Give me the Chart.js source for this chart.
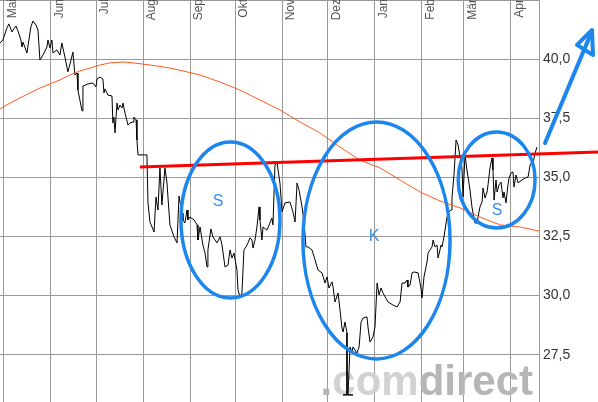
<!DOCTYPE html>
<html>
<head>
<meta charset="utf-8">
<script src="https://cdn.jsdelivr.net/npm/chart.js@4/dist/chart.umd.min.js"></script>
<style>
html,body{margin:0;padding:0;background:#fff;}
#wrap{width:598px;height:402px;}
</style>
</head>
<body>
<div id="wrap"><canvas id="kurs" width="598" height="402"></canvas></div>
<script>

/* x = days since 1. Mai, y = Kurs */
let monthDays = [0,31,61,92,123,153,184,214,245,276,304,335];
let monthLabels = ["Mai","Jun","Jul","Aug","Sep","Okt","Nov","Dez","Jan","Feb","Mär","Apr"];
let yTicks = [27.5,30,32.5,35,37.5,40];

let priceDays = [-2.6,-0.7,2.0,3.3,5.3,7.9,9.3,11.2,11.9,12.6,
15.2,17.8,19.2,21.2,22.5,23.8,25.8,28.4,29.1,30.4,
31.7,32.4,35.0,37.0,38.3,40.3,42.3,44.3,45.6,46.9,
48.3,48.9,51.6,52.2,55.5,58.8,60.8,61.5,63.5,65.4,
66.1,66.8,68.1,68.7,71.4,72.0,72.7,73.4,74.7,75.4,
76.7,78.0,78.7,80.0,82.0,83.3,85.3,85.9,87.3,87.9,
88.6,94.5,95.2,96.5,99.2,100.5,101.8,103.1,104.4,106.4,
107.7,109.7,112.4,114.4,115.7,117.7,118.3,119.6,121.0,121.6,
122.9,125.6,127.6,128.2,129.6,131.5,132.9,134.2,134.8,136.8,
138.1,140.8,142.8,144.1,146.1,148.1,149.4,150.7,152.0,154.0,
154.7,156.0,157.3,158.6,160.0,161.3,162.6,163.9,164.6,165.9,
167.2,168.6,169.2,170.5,171.2,173.8,175.8,177.1,177.8,179.1,
180.5,182.4,183.8,185.7,189.0,191.0,192.4,193.7,195.0,197.0,
198.3,199.6,200.9,203.6,205.6,207.6,210.2,212.2,213.5,214.8,
216.8,217.5,218.8,220.8,222.1,223.4,224.1,225.4,226.7,
226.7,224.1,230.7,227.4,
228.7,230.0,230.7,233.3,234.7,236.0,237.3,239.9,240.6,241.9,
243.9,245.2,246.6,247.9,249.2,250.5,253.8,257.1,259.8,261.8,
263.1,265.1,266.4,267.0,268.4,269.7,271.0,273.7,275.6,276.3,
277.6,279.6,280.3,282.9,283.6,284.9,286.2,286.9,288.9,289.5,
290.8,292.8,294.1,295.5,296.1,297.5,298.8,300.1,301.4,302.7,
303.4,304.7,306.0,308.0,309.3,310.0,311.3,312.7,313.3,314.6,
316.0,316.6,317.9,319.3,319.9,321.2,322.6,323.2,323.9,325.2,
325.9,327.2,328.5,329.8,330.5,331.8,333.1,333.8,335.1,336.4,
337.1,338.4,339.8,340.4,342.4,344.4,346.4,347.7,349.0,349.7,
351.0,352.3];

let prices = [40.68,40.81,41.32,41.49,41.15,41.40,41.19,40.81,40.51,40.72,
40.26,41.36,41.61,41.44,41.23,39.96,40.17,40.51,40.81,40.47,
40.81,40.26,40.39,40.17,40.68,40.09,39.46,39.96,40.30,39.33,
39.41,38.69,37.81,38.86,38.95,38.99,38.82,39.16,39.24,39.16,
38.57,38.74,38.57,38.48,38.44,37.30,37.55,36.88,38.14,37.85,
38.06,37.93,38.14,37.72,37.21,37.30,37.34,37.55,37.43,36.58,
35.95,35.95,33.92,33.11,32.69,34.17,33.62,35.40,33.83,35.40,
34.80,32.99,32.48,32.23,34.21,33.49,33.20,33.07,33.62,33.20,
33.32,33.20,32.99,32.35,32.90,32.14,31.80,31.21,31.93,32.82,
32.48,32.23,32.48,32.14,31.21,31.29,31.93,31.59,31.80,31.08,
30.24,29.94,30.11,31.93,32.06,32.23,32.44,32.35,32.01,32.35,
32.90,33.75,33.20,32.35,32.90,32.77,33.07,33.28,32.99,35.52,
35.61,34.76,33.54,33.92,33.96,33.54,33.11,34.76,34.47,33.75,
33.11,32.06,32.06,31.93,31.51,31.08,30.96,30.53,30.79,30.32,
30.58,30.36,29.73,30.11,29.39,28.63,28.46,28.88,28.42,
25.80,25.80,25.80,25.80,
27.83,27.62,27.83,27.57,27.83,28.88,29.05,29.10,28.67,28.04,
28.25,28.67,30.53,30.03,30.32,30.11,29.73,29.60,29.52,29.73,
30.53,30.53,30.66,30.36,30.45,30.96,31.00,30.96,30.32,29.90,
30.79,31.42,31.80,32.06,32.35,32.06,32.14,31.59,32.14,32.06,
32.48,33.32,33.54,33.62,34.13,35.18,36.58,36.37,35.86,35.40,
34.17,35.95,35.31,34.47,33.75,33.49,33.07,33.07,33.32,33.75,
33.96,34.55,34.13,34.38,34.68,35.40,35.82,35.31,34.04,34.89,
34.38,34.68,34.80,34.13,34.38,33.92,34.68,34.97,35.18,35.23,
34.59,35.10,34.76,34.80,34.89,34.97,35.02,35.52,35.65,35.61,
36.03,36.28];

/* 200 Tage Linie */
let maDays = [-2.6,4.0,10.6,17.2,23.8,30.4,37.0,43.6,50.2,56.8,63.5,70.1,78.7,85.3,91.9,101.1,109.7,118.3,129.6,142.8,156.0,169.2,182.4,195.7,208.9,222.1,235.3,248.5,261.8,275.0,288.2,301.4,314.6,327.8,341.1,353.6];
let maValues = [37.89,38.14,38.36,38.57,38.78,38.95,39.12,39.33,39.50,39.62,39.75,39.84,39.88,39.84,39.79,39.71,39.62,39.50,39.33,39.03,38.69,38.27,37.85,37.34,36.88,36.28,35.73,35.40,34.89,34.38,34.00,33.71,33.32,32.99,32.90,32.73];

/* Widerstandslinie */
let trendDays = [89.9,392.6];
let trendValues = [35.44,36.07];

/* Formationen: S - K - S */
let shapeLabels = ["S","K","S"];
let shapeDays = [149.7,246.2,325.6];
let shapeValues = [33.20,32.33,34.89];
let shapeHalfDays = [32.7,48.6,25.4];
let shapeHalfValues = [3.30,5.01,2.03];
let labelDays = [141.5,244.6,325.9];
let labelValues = [33.96,32.48,33.58];

/* Pfeil */
let arrowDays = [357.6,388.0];
let arrowValues = [36.45,41.10];
let arrowHeadDays = [378.7,388.6,389.3];
let arrowHeadValues = [40.60,41.23,40.17];

function pts(xs, ys){
let out = [];
for(let i = 0; i < Math.min(xs.length, ys.length); i++){
out.push({x: xs[i], y: ys[i]});
}
return out;
}

function noPad(s){
s.paddingTop = 0;
s.paddingBottom = 0;
s.paddingLeft = 0;
s.paddingRight = 0;
}

const FONT = "'Liberation Sans', Arial, sans-serif";
const BLUE = "#1c86ee";

let overlay = {
id: "overlay",
beforeDatasetsDraw(chart){
/* watermark */
let ctx = chart.ctx;
let a = chart.chartArea;
ctx.save();
ctx.font = "bold 42px " + FONT;
let parts = [[".", "#b4b4b4"], ["com", "#d2d2d2"], ["direct", "#b6b6b6"]];
let w = 0;
parts.forEach(p => w += ctx.measureText(p[0]).width);
let x = a.right - 6 - w;
ctx.textBaseline = "alphabetic";
parts.forEach(p => {
ctx.fillStyle = p[1];
ctx.fillText(p[0], x, a.bottom - 7);
x += ctx.measureText(p[0]).width;
});
ctx.restore();
},
afterDatasetsDraw(chart){
let ctx = chart.ctx;
let xs = chart.scales.x;
let ys = chart.scales.y;
ctx.save();

/* ellipses */
ctx.strokeStyle = BLUE;
ctx.lineWidth = 3.5;
for(let i = 0; i < shapeDays.length; i++){
let cx = xs.getPixelForValue(shapeDays[i]);
let cy = ys.getPixelForValue(shapeValues[i]);
let rx = Math.abs(xs.getPixelForValue(shapeDays[i] + shapeHalfDays[i]) - cx);
let ry = Math.abs(ys.getPixelForValue(shapeValues[i] + shapeHalfValues[i]) - cy);
ctx.beginPath();
ctx.ellipse(cx, cy, rx, ry, 0, 0, Math.PI * 2);
ctx.stroke();
}

ctx.fillStyle = "#3d8fe6";
ctx.font = "16px " + FONT;
ctx.textAlign = "center";
ctx.textBaseline = "middle";
for(let i = 0; i < shapeLabels.length; i++){
ctx.fillText(shapeLabels[i], xs.getPixelForValue(labelDays[i]), ys.getPixelForValue(labelValues[i]));
}

/* arrow */
ctx.lineWidth = 4;
ctx.lineCap = "round";
ctx.lineJoin = "round";
ctx.beginPath();
ctx.moveTo(xs.getPixelForValue(arrowDays[0]), ys.getPixelForValue(arrowValues[0]));
ctx.lineTo(xs.getPixelForValue(arrowDays[1]), ys.getPixelForValue(arrowValues[1]));
ctx.stroke();
ctx.beginPath();
for(let i = 0; i < arrowHeadDays.length; i++){
let px = xs.getPixelForValue(arrowHeadDays[i]);
let py = ys.getPixelForValue(arrowHeadValues[i]);
if(i === 0) ctx.moveTo(px, py); else ctx.lineTo(px, py);
}
ctx.closePath();
ctx.stroke();

/* month labels, rotated, at the top */
ctx.fillStyle = "#555";
ctx.font = "12px " + FONT;
ctx.textAlign = "right";
ctx.textBaseline = "alphabetic";
for(let i = 0; i < monthDays.length; i++){
let gx = xs.getPixelForValue(monthDays[i]);
ctx.save();
ctx.translate(Math.round(gx) + 12, -1);
ctx.rotate(-Math.PI / 2);
ctx.fillText(monthLabels[i], 0, 0);
ctx.restore();
}
ctx.restore();
}
};

let chart = new Chart(document.getElementById("kurs"), {
type: "line",
data: {
datasets: [
{
label: "Widerstand",
data: pts(trendDays, trendValues),
borderColor: "#ff0000",
borderWidth: 3,
pointRadius: 0,
clip: false
},
{
label: "GD 200",
data: pts(maDays, maValues),
borderColor: "#ff5a1e",
borderWidth: 1,
pointRadius: 0
},
{
label: "Kurs",
data: pts(priceDays, prices),
borderColor: "#000",
borderWidth: 1,
pointRadius: 0
}
]
},
options: {
responsive: false,
animation: false,
devicePixelRatio: 1,
layout: { padding: 0 },
plugins: {
legend: { display: false },
tooltip: { enabled: false }
},
scales: {
x: {
type: "linear",
position: "top",
min: -2.6,
max: 353.6,
afterBuildTicks: s => { s.ticks = monthDays.map(v => ({ value: v })); },
afterFit: s => { s.height = 0; noPad(s); },
ticks: { display: false },
grid: { color: "#999", drawTicks: false },
border: { display: true, color: "#999" }
},
y: {
position: "right",
min: 25.5,
max: 42.5,
afterBuildTicks: s => { s.ticks = yTicks.map(v => ({ value: v })); },
afterFit: s => { s.width = 59; noPad(s); },
ticks: {
color: "#333",
padding: 4,
font: { family: FONT, size: 14 },
callback: v => v.toFixed(1).replace(".", ",")
},
grid: { color: "#999", drawTicks: false },
border: { display: true, color: "#999" }
}
}
},
plugins: [overlay]
});

</script>
</body>
</html>
